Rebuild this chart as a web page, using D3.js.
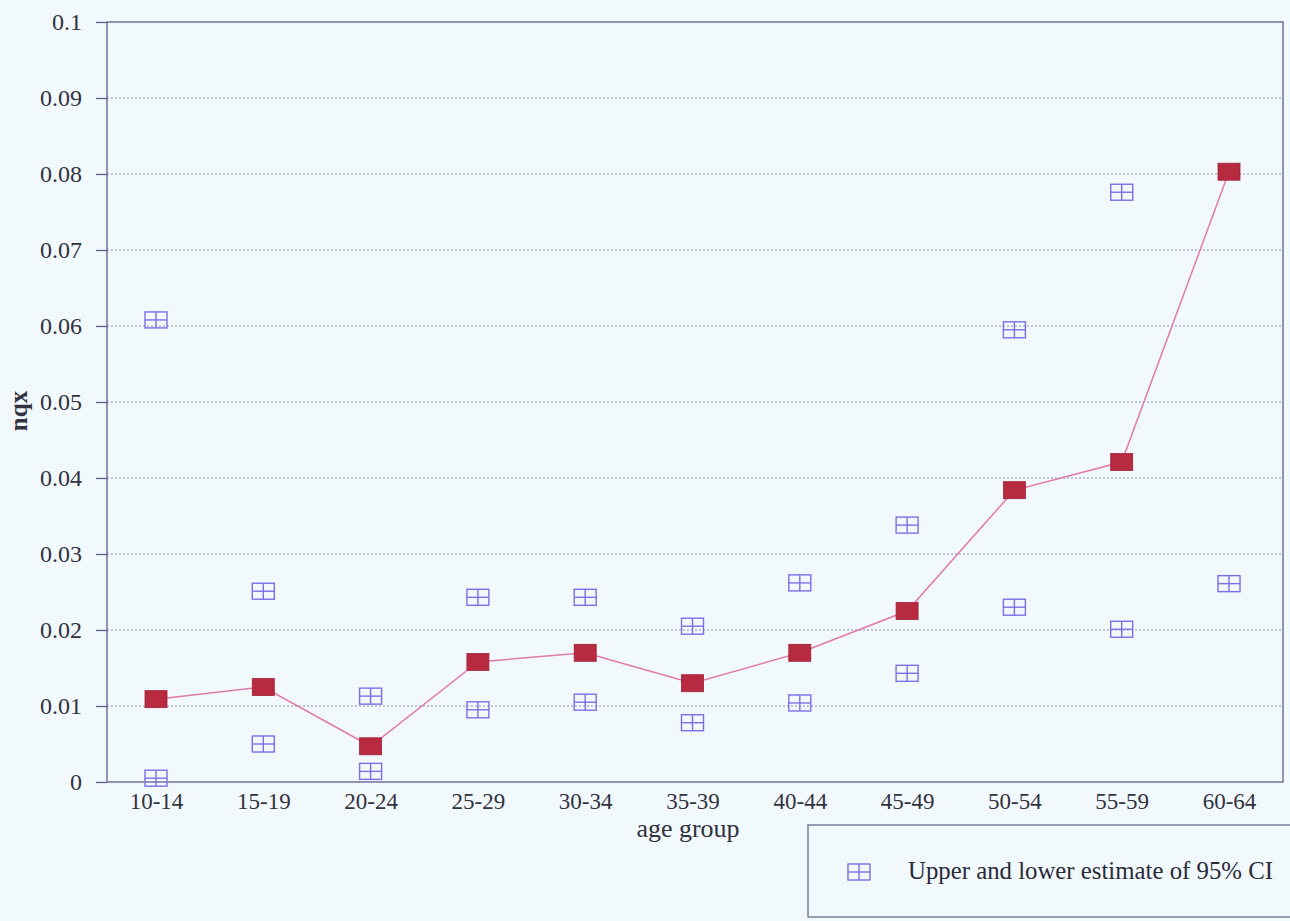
<!DOCTYPE html>
<html><head><meta charset="utf-8">
<script src="https://cdn.jsdelivr.net/npm/d3@7"></script>
<style>html,body{margin:0;padding:0;background:#f1f9fc;}svg{display:block;} text{font-family:"Liberation Serif","DejaVu Serif",serif;}</style>
</head><body>
<script>
const categories = ["10-14","15-19","20-24","25-29","30-34","35-39","40-44","45-49","50-54","55-59","60-64"];
const nqx   = [0.0109,0.0125,0.0047,0.0158,0.0170,0.0130,0.0170,0.0225,0.0384,0.0421,0.0803];
const upper = [0.0608,0.0251,0.0113,0.0243,0.0243,0.0205,0.0262,0.0338,0.0595,0.0776,null];
const lower = [0.0005,0.0050,0.0014,0.0095,0.0105,0.0078,0.0104,0.0143,0.0230,0.0201,0.0261];
const yTicks = [0,0.01,0.02,0.03,0.04,0.05,0.06,0.07,0.08,0.09,0.1];
const yTickLabels = ["0","0.01","0.02","0.03","0.04","0.05","0.06","0.07","0.08","0.09","0.1"];

const W=1290,H=921;
const L=107,R=1283,T=22,B=782;
const svg=d3.select("body").append("svg").attr("width",W).attr("height",H);
svg.append("rect").attr("width",W).attr("height",H).attr("fill","#f1f9fc");
const axisCol="#5d5d8c";
const txtCol="#33323f";

const x=d3.scalePoint().domain(categories).range([156,1229]);
const y=d3.scaleLinear().domain([0,0.1]).range([B,T]);

// gridlines
svg.append("g").selectAll("line").data(yTicks.filter(d=>d>0&&d<0.1)).join("line")
  .attr("x1",L).attr("x2",R).attr("y1",d=>y(d)).attr("y2",d=>y(d))
  .attr("stroke","#8a8ab0").attr("stroke-width",1).attr("stroke-dasharray","2,2");

// frame
svg.append("rect").attr("x",L).attr("y",T).attr("width",R-L).attr("height",B-T)
  .attr("fill","none").attr("stroke",axisCol).attr("stroke-width",1.3);

// y axis
const yAxis=d3.axisLeft(y).tickValues(yTicks).tickFormat((d,i)=>yTickLabels[i]).tickSizeInner(11).tickSizeOuter(0).tickPadding(14);
const ya=svg.append("g").attr("transform",`translate(${L},0)`).call(yAxis);
ya.attr("font-family",null);
ya.select(".domain").remove();
ya.selectAll(".tick line").attr("stroke",axisCol).attr("stroke-width",1.3);
ya.selectAll(".tick text").attr("font-size",24).attr("fill",txtCol);

// x axis labels
const xAxis=d3.axisBottom(x).tickSize(0).tickPadding(11);
const xa=svg.append("g").attr("transform",`translate(0,${B})`).call(xAxis);
xa.attr("font-family",null);
xa.select(".domain").remove();
xa.selectAll(".tick text").attr("font-size",23).attr("fill",txtCol);

// axis titles
svg.append("text").attr("x",688).attr("y",837).attr("text-anchor","middle")
  .attr("font-size",26).attr("fill",txtCol).text("age group");
svg.append("text").attr("transform","translate(27,411) rotate(-90)").attr("text-anchor","middle")
  .attr("font-size",25).attr("font-weight","bold").attr("fill",txtCol).text("nqx");

// line
const line=d3.line().x((d,i)=>x(categories[i])).y(d=>y(d));
svg.append("path").datum(nqx).attr("d",line).attr("fill","none").attr("stroke","#e07aaa").attr("stroke-width",1.5);

// CI markers
function ciMarker(g,cx,cy){
  const w=22,h=16;
  g.append("rect").attr("x",cx-w/2).attr("y",cy-h/2).attr("width",w).attr("height",h)
    .attr("fill","none").attr("stroke","#7a70e6").attr("stroke-width",1.4);
  g.append("line").attr("x1",cx).attr("x2",cx).attr("y1",cy-h/2).attr("y2",cy+h/2).attr("stroke","#7a70e6").attr("stroke-width",1.4);
  g.append("line").attr("x1",cx-w/2).attr("x2",cx+w/2).attr("y1",cy).attr("y2",cy).attr("stroke","#7a70e6").attr("stroke-width",1.4);
}
const ci=svg.append("g");
[upper,lower].forEach(arr=>arr.forEach((v,i)=>{ if(v!=null) ciMarker(ci,x(categories[i]),y(v)); }));

// main markers
svg.append("g").selectAll("rect").data(nqx).join("rect")
  .attr("x",(d,i)=>x(categories[i])-11).attr("y",d=>y(d)-8.5).attr("width",22).attr("height",17)
  .attr("fill","#b82a40").attr("stroke","#a02036").attr("stroke-width",0.8);

// legend
svg.append("rect").attr("x",808).attr("y",825).attr("width",490).attr("height",92)
  .attr("fill","none").attr("stroke","#6a6a8a").attr("stroke-width",1.3);
ciMarker(svg.append("g"),859,872);
svg.append("text").attr("x",908).attr("y",879).attr("font-size",24.8)
  .attr("fill","#2a2a38").text("Upper and lower estimate of 95% CI");
</script>
</body></html>
